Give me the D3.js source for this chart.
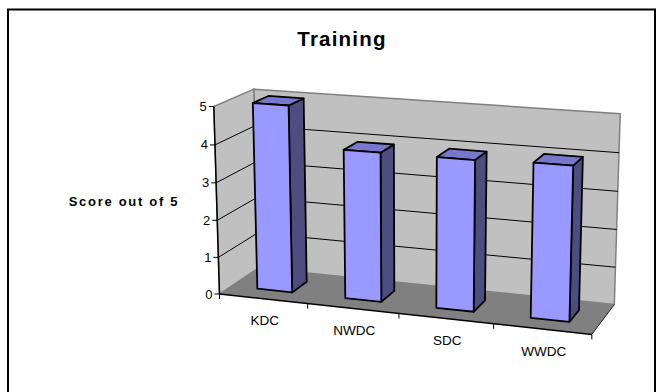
<!DOCTYPE html>
<html>
<head>
<meta charset="utf-8">
<script src="https://cdn.jsdelivr.net/npm/d3@7"></script>
<style>
  body { margin: 0; background: #fff; }
  svg { display: block; font-family: "Liberation Sans", Arial, sans-serif; }
</style>
</head>
<body>
<svg id="chart" width="662" height="392"></svg>
<script>
// ---- data ----
const categories = ["KDC", "NWDC", "SDC", "WWDC"];
const scores = [5.0, 3.95, 3.95, 4.0];
const valueTicks = [0, 1, 2, 3, 4, 5];
const chartTitle = "Training";
const valueAxisTitle = "Score out of 5";

// ---- 3D box and camera ----
const W = 390, H = 195.5, D = W / 4;          // plot box in world units
const yaw = 19 * Math.PI / 180;                // rotation about the vertical axis
const elev = 14.7 * Math.PI / 180;             // viewing elevation
const focal = 1722;                            // perspective focal length
const cx = 415, cy = 206;                      // screen position of the box centre

const x = d3.scaleBand().domain(categories).range([0, W]).paddingInner(0.6).paddingOuter(0.3);
const slot = d3.scaleBand().domain(categories).range([0, W]);
const y = d3.scaleLinear().domain([0, 5]).range([0, H]);
const z = d3.scaleLinear().domain([0, 1]).range([0, D]);

const ca = Math.cos(yaw), sa = Math.sin(yaw), ce = Math.cos(elev), se = Math.sin(elev);
function project(X, Y, Z) {
  const px = X - W / 2, py = Y - H / 2, pz = Z - D / 2;
  const x1 = px * ca + pz * sa;
  const z1 = -px * sa + pz * ca;
  const y2 = py * ce + z1 * se;
  const z2 = -py * se + z1 * ce;
  const s = focal / (focal + z2);
  return [cx + x1 * s, cy - y2 * s];
}
const poly = pts => d3.line()(pts.map(p => project(...p))) + "Z";
const seg = (a, b) => d3.line()([project(...a), project(...b)]);

const svg = d3.select("#chart");

// outer frame
svg.append("rect").attr("x", 8).attr("y", 9.5).attr("width", 647).attr("height", 420)
  .attr("fill", "#fff").attr("stroke", "#000").attr("stroke-width", 2);

// title
svg.append("text").attr("x", 342).attr("y", 46).attr("text-anchor", "middle")
  .attr("font-size", 20.5).attr("font-weight", "bold").attr("letter-spacing", 1.2)
  .text(chartTitle);

// value axis title
svg.append("text").attr("x", 124).attr("y", 206).attr("text-anchor", "middle")
  .attr("font-size", 13).attr("font-weight", "bold").attr("letter-spacing", 1.7)
  .text(valueAxisTitle);

const g = svg.append("g");
const ymax = y(5);

// walls
g.append("path").attr("d", poly([[0,0,0],[0,ymax,0],[0,ymax,D],[0,0,D]]))
  .attr("fill", "#c0c0c0").attr("stroke", "#808080").attr("stroke-width", 1.5);
g.append("path").attr("d", poly([[0,0,D],[0,ymax,D],[W,ymax,D],[W,0,D]]))
  .attr("fill", "#c0c0c0").attr("stroke", "#808080").attr("stroke-width", 1.5);

// gridlines
valueTicks.filter(v => v > 0 && v < 5).forEach(v => {
  g.append("path").attr("d", seg([0,y(v),0],[0,y(v),D])).attr("stroke", "#000").attr("fill", "none");
  g.append("path").attr("d", seg([0,y(v),D],[W,y(v),D])).attr("stroke", "#000").attr("fill", "none");
});

// floor
g.append("path").attr("d", poly([[0,0,0],[W,0,0],[W,0,D],[0,0,D]]))
  .attr("fill", "#808080").attr("stroke", "none");
g.append("path").attr("d", seg([W,0,0],[W,0,D])).attr("stroke", "#222").attr("stroke-width", 1).attr("fill", "none");

// bars
const z0 = z(0.3), z1 = z(0.7);
categories.forEach((c, i) => {
  const xa = x(c), xb = x(c) + x.bandwidth(), h = y(scores[i]);
  const bar = g.append("g").attr("stroke", "#000").attr("stroke-width", 1.8).attr("stroke-linejoin", "round");
  bar.append("path").attr("d", poly([[xb,0,z0],[xb,0,z1],[xb,h,z1],[xb,h,z0]])).attr("fill", "#4d4d80");
  bar.append("path").attr("d", poly([[xa,h,z0],[xb,h,z0],[xb,h,z1],[xa,h,z1]])).attr("fill", "#7777cc");
  bar.append("path").attr("d", poly([[xa,0,z0],[xb,0,z0],[xb,h,z0],[xa,h,z0]])).attr("fill", "#9999ff");
});

// value axis
g.append("path").attr("d", seg([0,0,0],[0,ymax,0])).attr("stroke", "#000").attr("stroke-width", 1.5).attr("fill", "none");
valueTicks.forEach(v => {
  const [px, py] = project(0, y(v), 0);
  g.append("line").attr("x1", px - 5).attr("x2", px).attr("y1", py).attr("y2", py)
    .attr("stroke", "#000").attr("stroke-width", 1);
  g.append("text").attr("x", px - 7).attr("y", py).attr("dy", "0.35em")
    .attr("text-anchor", "end").attr("font-size", 13).text(v);
});

// category axis
g.append("path").attr("d", seg([0,0,0],[W,0,0])).attr("stroke", "#000").attr("stroke-width", 1.5).attr("fill", "none");
const bounds = categories.map(c => slot(c)).concat([W]);
bounds.forEach(bx => {
  const [px, py] = project(bx, 0, 0);
  g.append("line").attr("x1", px).attr("x2", px).attr("y1", py).attr("y2", py + 5)
    .attr("stroke", "#000").attr("stroke-width", 1);
});
categories.forEach(c => {
  const [px, py] = project(slot(c) + slot.bandwidth() / 2, 0, 0);
  g.append("text").attr("x", px + 1.5).attr("y", py + 22).attr("dy", "0.35em")
    .attr("text-anchor", "middle").attr("font-size", 13.5).text(c);
});
</script>
</body>
</html>
